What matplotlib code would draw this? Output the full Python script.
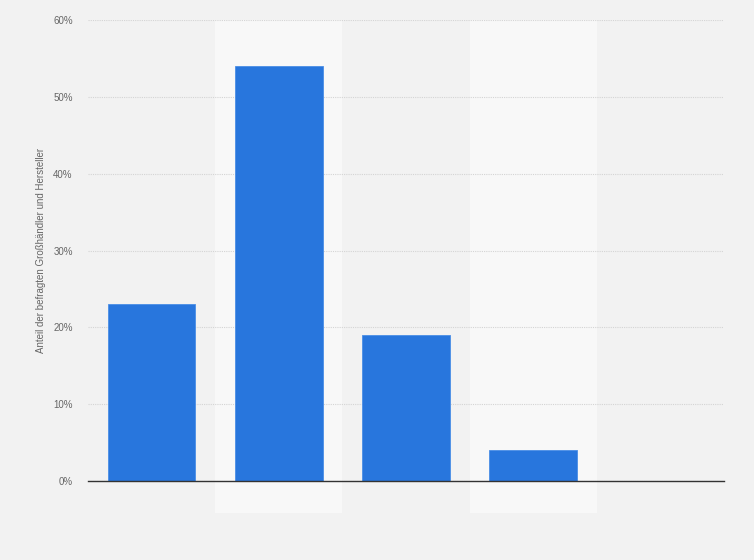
import numpy as np
import matplotlib.pyplot as plt
from matplotlib.ticker import FuncFormatter

plt.rcParams['font.family'] = ['Liberation Sans', 'DejaVu Sans']

# Werte (Anteil in %), Kategorienamen sind im Bild nicht beschriftet
categories = ['A', 'B', 'C', 'D', 'E']
values = [23, 54, 19, 4, 0]
yticks = [0, 10, 20, 30, 40, 50, 60]

bg = '#f2f2f2'
band = '#f8f8f8'
bar_color = '#2876dd'

fig = plt.figure(figsize=(7.54, 5.6), dpi=100, facecolor=bg)
ax = fig.add_axes([0.1167, 0.141, 0.8435, 0.8233])
ax.set_facecolor(bg)

x = np.arange(len(categories))
for i in x:
    if i % 2 == 1:
        ax.axvspan(i - 0.5, i + 0.5, ymin=-0.07, ymax=1.0, color=band,
                   zorder=0, clip_on=False, lw=0)

ax.bar(x, values, width=0.69, color=bar_color, edgecolor='#4a8ee6',
       linewidth=0.6, zorder=3)

ax.set_xlim(-0.5, len(categories) - 0.5)
ax.set_ylim(0, 60)
ax.set_yticks(yticks)
ax.yaxis.set_major_formatter(FuncFormatter(lambda v, p: f'{v:.0f}%'))
ax.set_xticks([])
ax.grid(axis='y', color='#d4d4d4', linestyle=(0, (1, 1)), linewidth=0.8, zorder=1)
ax.tick_params(axis='y', length=0, labelsize=7, labelcolor='#666666', pad=11)

for s in ['top', 'right', 'left']:
    ax.spines[s].set_visible(False)
ax.spines['bottom'].set_color('#333333')
ax.spines['bottom'].set_linewidth(1.0)
ax.spines['bottom'].set_zorder(4)

ax.set_ylabel('Anteil der befragten Großhändler und Hersteller', fontsize=7,
              color='#666666', labelpad=5)

fig.savefig('out.png', dpi=100, facecolor=bg)
